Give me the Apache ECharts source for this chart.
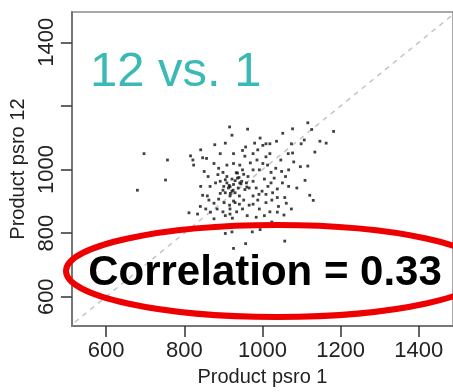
<!DOCTYPE html>
<html>
<head>
<meta charset="utf-8">
<script src="https://cdn.jsdelivr.net/npm/echarts@6/dist/echarts.min.js"></script>
<style>
html,body{margin:0;padding:0;background:#fff;}
#chart{width:453px;height:392px;}
</style>
</head>
<body>
<div id="chart"></div>
<script>
// Product psro 1 (x) values
var psro1 = [680,697,757,752,812,847,894,905,922,952,974,994,957,926,1057,1024,1182,1163,1147,1116,
1126,1077,1052,1036,1074,1099,1107,1134,1121,1130,1116,1109,1088,1067,1074,1057,1041,1026,1047,1066,
1077,1067,1080,1097,916,922,962,957,980,994,1001,905,878,842,816,822,824,847,857,851,
892,926,955,969,986,1019,1009,1013,1034,1022,1005,1014,999,984,976,963,949,936,922,909,
917,899,886,892,880,866,842,847,863,876,888,902,916,926,941,952,966,976,988,949,
961,934,917,899,884,867,855,841,834,876,942,955,930,917,905,926,936,909,899,942,
926,909,888,876,861,992,1001,976,966,1009,1024,1038,1051,1059,1049,1009,992,1005,1019,1038,
1055,984,892,913,922,938,947,959,901,930,941,917,905,923,976,991,1022,1030,1038,1061,
976,949,1019,988,859,1009,915,930,945,925,940,952,905,918,933,960];
// Product psro 12 (y) values
var psro12 = [935,1050,1030,967,864,819,824,799,804,824,804,811,767,752,775,835,1120,1083,1089,1147,
1126,1128,1114,1089,1081,1081,1093,1055,919,903,1011,966,942,947,876,912,884,927,1030,1050,
1052,999,1024,1009,1134,1108,1127,1071,1083,1099,1076,1083,1078,1062,1043,1030,1014,1037,1035,994,
1050,1050,1042,1021,1030,1050,1040,1014,1004,991,970,947,932,942,963,978,999,989,970,958,
946,935,984,963,958,947,947,919,904,894,907,896,888,901,917,904,888,917,904,876,
855,867,860,867,876,866,876,884,860,845,958,937,927,917,927,953,973,978,991,1014,
1019,1014,1004,1019,978,999,1019,999,942,922,904,939,958,978,994,896,876,855,867,866,
857,850,925,942,932,942,963,958,947,896,891,876,855,847,891,922,958,973,912,894,
1050,1060,1081,1062,917,1081,950,965,955,935,975,985,968,925,990,945];
// identity reference line (y = x)
var identity = [[500, 500], [1500, 1500]];
var xTicks = [600, 800, 1000, 1200, 1400];
var yTicks = [600, 800, 1000, 1200, 1400];
var yLabels = [600, 800, 1000, 1400];
var titleText = '12 vs. 1';
var corrText = 'Correlation = 0.33';

var pts = psro1.map(function (x, i) { return [x, psro12[i]]; });
function plain(v) { return String(v); }

var chart = echarts.init(document.getElementById('chart'), null, {renderer: 'canvas'});
var axisFont = 'Liberation Sans, Arial, sans-serif';
chart.setOption({
  animation: false,
  backgroundColor: '#fff',
  grid: {
    left: 68, top: 12, right: -5, bottom: 59,
    show: true, borderColor: '#8a8a8a', borderWidth: 1.5, backgroundColor: 'transparent'
  },
  xAxis: {
    type: 'value', min: 512.5, max: 1487.5,
    name: 'Product psro 1', nameLocation: 'middle', nameGap: 37,
    nameTextStyle: {fontFamily: axisFont, fontSize: 20, color: '#222'},
    axisLine: {show: true, onZero: false, lineStyle: {color: '#777', width: 2}},
    axisTick: {show: true, inside: false, length: 11, customValues: xTicks, lineStyle: {color: '#333', width: 1.5}},
    axisLabel: {customValues: xTicks, formatter: plain, fontFamily: axisFont, fontSize: 22, color: '#222', margin: 14},
    splitLine: {show: false}
  },
  yAxis: {
    type: 'value', min: 507.7, max: 1495.4,
    name: 'Product psro 12', nameLocation: 'middle', nameGap: 42, nameRotate: 90,
    nameTextStyle: {fontFamily: axisFont, fontSize: 20, color: '#222'},
    axisLine: {show: true, onZero: false, lineStyle: {color: '#777', width: 2}},
    axisTick: {show: true, inside: false, length: 11, customValues: yTicks, lineStyle: {color: '#333', width: 1.5}},
    axisLabel: {customValues: yLabels, formatter: plain, rotate: 90, fontFamily: axisFont, fontSize: 22, color: '#222', margin: 14},
    splitLine: {show: false}
  },
  series: [
    {
      type: 'line', data: identity, symbol: 'none', silent: true, z: 1,
      lineStyle: {color: '#c4c4c4', width: 1.5, type: [5, 5]}
    },
    {
      type: 'scatter', data: pts, symbol: 'rect', symbolSize: 2.8, z: 2,
      itemStyle: {color: '#111'}
    }
  ],
  graphic: [
    {
      type: 'text', left: 90, top: 48, z: 10,
      style: {text: titleText, fill: '#3bbab5', font: '49px Liberation Sans, Arial, sans-serif'}
    },
    {
      type: 'ellipse', z: 10,
      shape: {cx: 277, cy: 271, rx: 211, ry: 46},
      style: {fill: 'none', stroke: '#ee0000', lineWidth: 6}
    },
    {
      type: 'text', z: 11, x: 265, y: 273,
      style: {text: corrText, fill: '#000', font: 'bold 42px Liberation Sans, Arial, sans-serif', align: 'center', verticalAlign: 'middle'}
    }
  ]
});
</script>
</body>
</html>
